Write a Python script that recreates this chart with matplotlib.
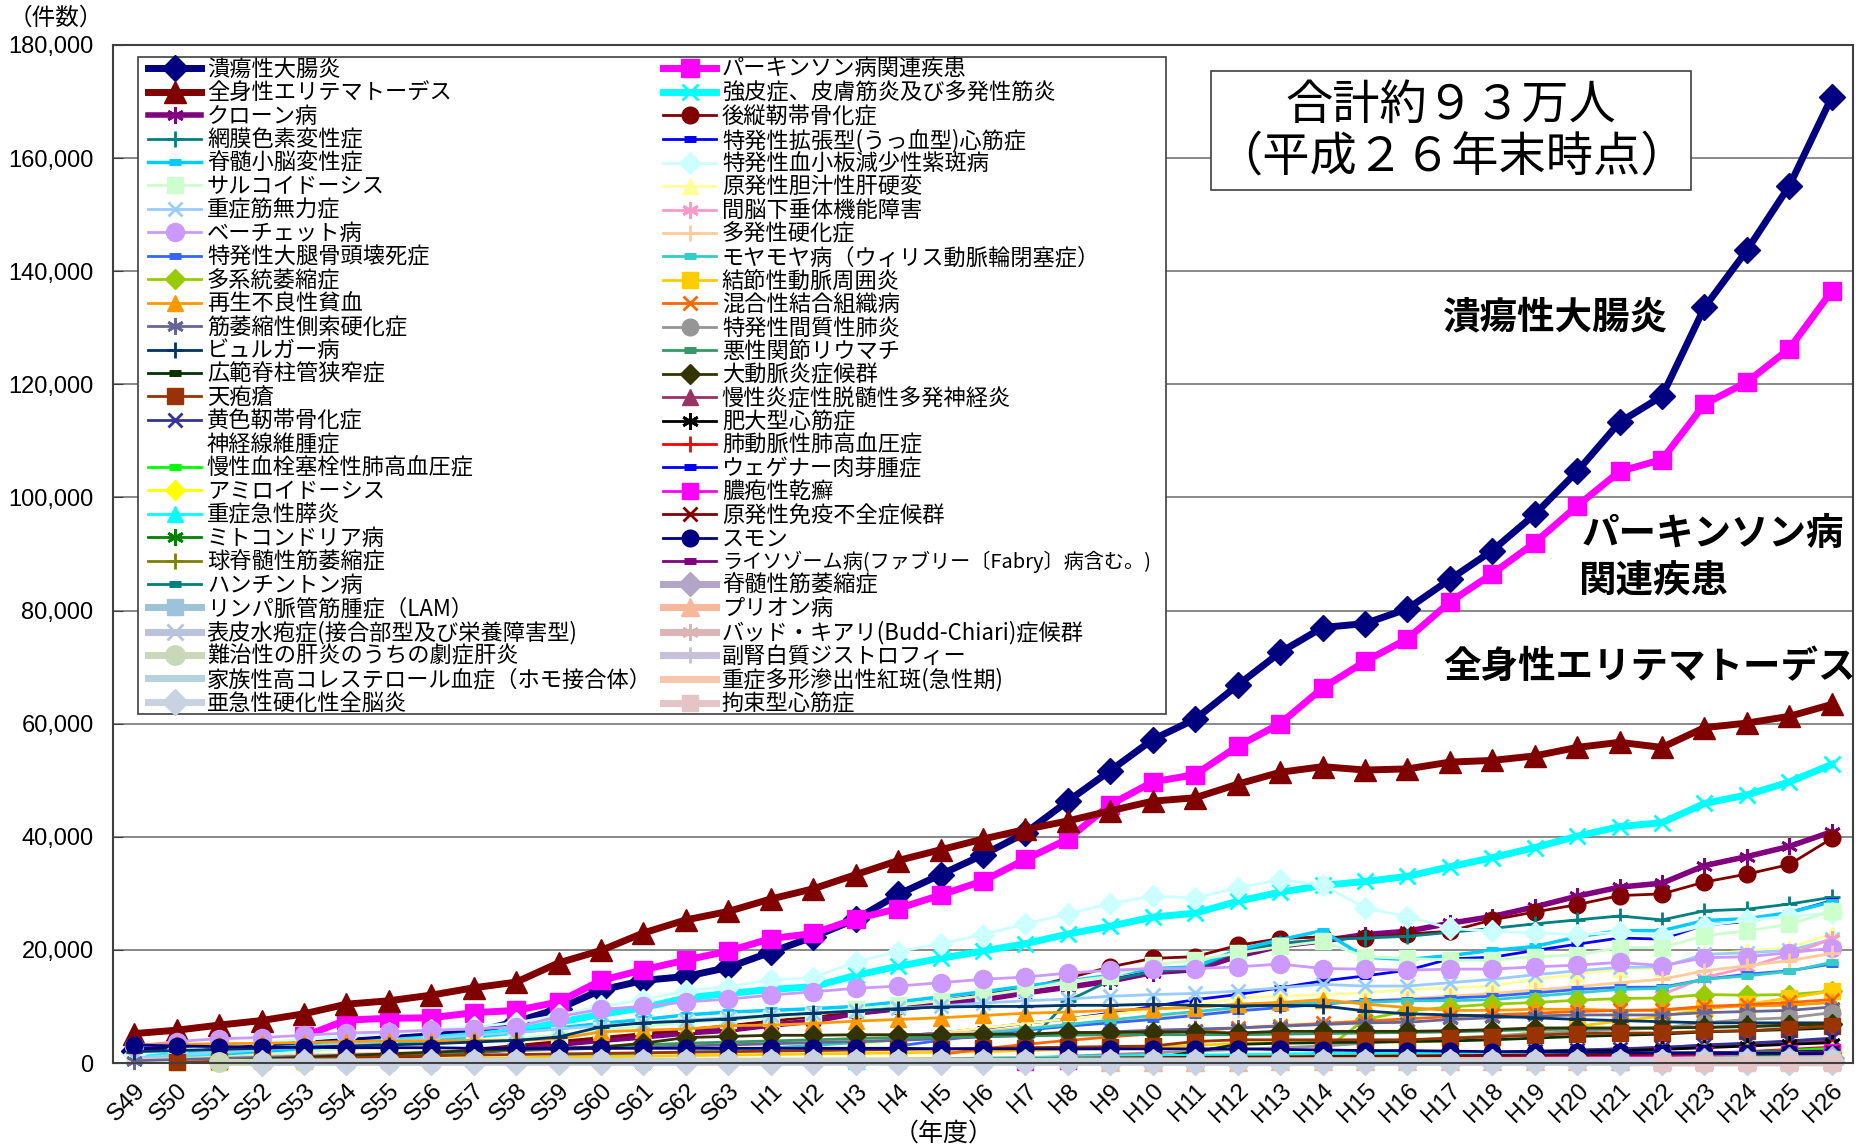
import numpy as np
import matplotlib
matplotlib.use('Agg')
import matplotlib.pyplot as plt
from matplotlib.patches import Rectangle
from matplotlib.ticker import FuncFormatter

plt.rcParams['font.family'] = ['Noto Sans CJK JP', 'DejaVu Sans']

years = ['S49', 'S50', 'S51', 'S52', 'S53', 'S54', 'S55', 'S56', 'S57', 'S58',
         'S59', 'S60', 'S61', 'S62', 'S63', 'H1', 'H2', 'H3', 'H4', 'H5',
         'H6', 'H7', 'H8', 'H9', 'H10', 'H11', 'H12', 'H13', 'H14', 'H15',
         'H16', 'H17', 'H18', 'H19', 'H20', 'H21', 'H22', 'H23', 'H24', 'H25', 'H26']

# --- left legend column ---
uc = [2200, 2400, 2700, 3000, 3300, 3800, 4300, 4800, 5500, 7300, 9600, 12900, 14600, 15300, 16900,
      19600, 22300, 25400, 29800, 33300, 36800, 40700, 46300, 51700, 57200,
      60800, 66800, 72600, 77000, 77700, 80300, 85500, 90600, 97000, 104600,
      113300, 117900, 133600, 143700, 155100, 170800]
sle = [5200, 5800, 6700, 7500, 8700, 10400, 11000, 12000, 13300, 14300, 17700, 19900, 23000, 25300, 26800,
       29000, 30800, 33300, 35800, 37700, 39600, 41300, 42800, 44600, 46300,
       46900, 49300, 51400, 52400, 51800, 52000, 53200, 53500, 54300, 55800,
       56700, 55800, 59300, 60100, 61300, 63400]
crohn = [None, None, 100, 300, 500, 800, 1100, 1500, 2000, 2600, 3300, 4000, 4600, 5300, 5800,
         6700, 7400, 8800, 9600, 10400, 11200, 12400, 13400, 14500, 16000,
         16500, 18900, 20700, 21600, 22700, 23300, 24700, 25900, 27600, 29500,
         31100, 31800, 34900, 36500, 38300, 40900]
rp = [None] * 21 + [3000, 11000, 14600, 16200,
      16700, 19700, 21200, 21800, 22100, 22400, 23100, 23800, 24600, 25300,
      26000, 25300, 26900, 27200, 28100, 29300]
scd = [None, None, 1200, 1800, 2400, 3000, 3600, 4200, 4800, 5400, 6200, 7000, 7700, 8500, 9000,
       9300, 9600, 10000, 10800, 11700, 12600, 13600, 14500, 15500, 16700,
       17000, 20000, 21800, 23400, 18700, 18300, 19000, 19900, 20600, 22300,
       23400, 23400, 25200, 25500, 26600, 28500]
sarcoid = [None, None, 1000, 1500, 2000, 2500, 3000, 3500, 3900, 4300, 5000, 5800, 6500, 7100, 7600,
           8000, 8500, 9600, 10200, 11000, 11900, 13000, 14400, 15300, 17300,
           18200, 19400, 20600, 21500, 18800, 18500, 18200, 18200, 18800, 19100,
           20400, 20400, 22500, 23400, 24500, 26900]
mg = [900, 1400, 1900, 2400, 2900, 3400, 3900, 4400, 4900, 5400, 6000, 6600, 7100, 7600, 8000,
      8400, 8800, 9200, 9700, 10100, 10600, 11000, 11300, 11800, 12100,
      12300, 12700, 13300, 13900, 13600, 13600, 14200, 14800, 15600, 16300,
      16900, 17000, 19200, 19500, 19900, 21900]
behcet = [3000, 3800, 4300, 4500, 4900, 5300, 5500, 5800, 6000, 6400, 8200, 9500, 10000, 10800, 11300,
          12000, 12600, 13200, 13600, 14200, 14800, 15200, 15900, 16400, 16700,
          16700, 17000, 17500, 16700, 16600, 16400, 16600, 16600, 17000, 17300,
          17800, 17200, 18600, 18800, 19500, 20300]
onfh = [None] * 18 + [3000, 4000, 5000, 5800, 6500, 7100, 7700,
        8400, 9200, 9800, 10400, 11000, 11200, 11500, 11800, 12400, 13000,
        13400, 13400, 14800, 15700, 16300, 17500]
msa = [None] * 28 + [2000, 7700, 9200, 9900, 10400, 10700, 11100,
       11400, 11500, 12100, 12000, 12100, 12700]
aa = [3200, 3300, 3400, 3500, 3600, 3800, 3900, 3900, 4000, 4000, 4300, 5500, 5800, 6000, 6600,
      6700, 7000, 7400, 7700, 8000, 8400, 8800, 9000, 9300, 9600,
      9800, 10400, 10700, 11200, 10400, 9800, 9300, 9300, 9500, 9500,
      9300, 9300, 9800, 10100, 10200, 10700]
als = [400, 600, 800, 1000, 1200, 1400, 1600, 1800, 2000, 2200, 2400, 2600, 2800, 3000, 3200,
       3400, 3600, 3800, 4000, 4300, 4600, 4900, 5200, 5500, 5800,
       6000, 6200, 6500, 6800, 7100, 7200, 7700, 8000, 8300, 8500,
       8500, 8500, 8900, 9100, 9300, 9900]
buerger = [2000, 2200, 2400, 2600, 2800, 3000, 3200, 3400, 3700, 4000, 4600, 6400, 7100, 7400, 7800,
           8400, 8800, 9200, 9600, 9900, 10000, 10000, 10200, 10200, 10400,
           10200, 10100, 10200, 10100, 9200, 8700, 8500, 8300, 8000, 7700,
           7500, 7300, 7100, 7100, 7100, 7100]
lss = [None] * 24 + [800,
       2000, 3300, 3500, 3600, 3700, 3800, 3900, 4100, 4400, 4700,
       4900, 5100, 5500, 5700, 5900, 6200]
pemphigus = [None, 100, 300, 500, 700, 900, 1100, 1300, 1400, 1500, 1600, 1700, 1800, 1900, 2000,
             2100, 2200, 2300, 2400, 2500, 2600, 2700, 2800, 2900, 3000,
             3800, 4100, 4100, 4100, 4100, 4100, 4400, 4600, 4900, 5200,
             5300, 5300, 5600, 5700, 6100, 6500]
olf = [None] * 29 + [800, 1200, 1500, 1800, 2100, 2300,
       2500, 2700, 3200, 3500, 3900, 4400]
nf = [None] * 24 + [500,
      800, 1000, 1200, 1400, 1600, 1800, 2000, 2200, 2400, 2600,
      2800, 3000, 3200, 3400, 3500, 3600]
cteph = [None] * 24 + [100,
         200, 300, 400, 500, 600, 700, 800, 900, 1000, 1100,
         1200, 1300, 1600, 1900, 2200, 2600]
amyloid = [None] * 5 + [100, 150, 200, 250, 300, 350, 400, 450, 500, 550,
           600, 650, 700, 750, 800, 850, 900, 950, 1000, 1050,
           1100, 1150, 1200, 1250, 1300, 1350, 1400, 1450, 1500, 1550,
           1600, 1650, 1700, 1750, 1800, 1900]
pancreatitis = [None] * 17 + [300, 500, 700, 900, 1000, 1100, 1200, 1300,
                1400, 1500, 1600, 1700, 1700, 1700, 1700, 1700, 1800, 1800,
                1800, 1800, 1600, 1600, 1500, 1500]
mito = [None] * 35 + [200, 500, 900, 1100, 1300, 1500]
sbma = [None] * 35 + [500, 700, 900, 1000, 1100, 1200]
huntington = [None] * 11 + [200, 250, 300, 350,
              400, 420, 440, 460, 480, 500, 520, 540, 560, 580,
              600, 620, 640, 660, 680, 700, 720, 740, 760, 780,
              800, 820, 840, 860, 880, 900]
lam = [None] * 35 + [100, 300, 500, 550, 600, 650]
eb = [None] * 35 + [100, 250, 300, 320, 340, 360]
hepatitis = [None, None, 100, 150, 200, 200, 250, 250, 300, 300, 300, 320, 320, 330, 330,
             340, 340, 350, 350, 350, 360, 360, 370, 370, 380,
             380, 390, 390, 400, 400, 400, 410, 410, 420, 420,
             430, 430, 440, 440, 450, 450]
fh = [None] * 35 + [50, 100, 120, 130, 140, 150]
sspe = [None, None, None, 80, 90, 100, 100, 100, 110, 110, 110, 110, 110, 110, 110,
        110, 110, 110, 110, 110, 100, 100, 100, 100, 100,
        100, 100, 100, 100, 100, 100, 100, 100, 100, 100,
        100, 100, 100, 100, 100, 100]

# --- right legend column ---
parkinson = [None, None, None, None, 4700, 7600, 7900, 8000, 8900, 9300, 10800, 14600, 16500, 18200, 19800,
             22000, 22900, 25500, 27300, 29700, 32200, 36000, 39600, 45700, 49700,
             51000, 56000, 60000, 66300, 71000, 75000, 81500, 86500, 92000, 98500,
             104600, 106700, 116500, 120400, 126300, 136500]
scleroderma = [1200, 1500, 1900, 2300, 2700, 3200, 3800, 4300, 4900, 5600, 7200, 8600, 9800, 11500, 12300,
               13000, 13500, 15500, 17100, 18500, 19800, 21100, 22800, 24200, 25800,
               26500, 28600, 30200, 31400, 32100, 33000, 34700, 36300, 38100, 40100,
               41800, 42500, 45900, 47400, 49700, 52800]
opll = [None] * 6 + [700, 1600, 2400, 3100, 3800, 4500, 5200, 5900, 6600,
        7400, 8200, 9200, 10100, 11000, 12100, 13200, 15000, 17000, 18500,
        18800, 20800, 22000, 22300, 22100, 22800, 23300, 25300, 26700, 28000,
        29600, 29900, 32000, 33400, 35100, 39700]
dcm = [None] * 18 + [4800, 5300, 6100, 7000, 7800, 8800, 10000,
       11200, 12100, 13300, 14500, 15400, 16400, 18400, 18700, 19900, 21000,
       22100, 21900, 24400, 25000, 26600, 28700]
itp = [1500, 2300, 3000, 3600, 4200, 4800, 5300, 5800, 6400, 7100, 8500, 10000, 11200, 12800, 13500,
       14700, 15100, 17900, 19700, 21100, 22700, 24600, 26400, 28200, 29500,
       29200, 31000, 32400, 31500, 27400, 25900, 23800, 23300, 23000, 22700,
       23100, 22500, 24300, 25200, 26000, 26500]
pbc = [None] * 16 + [1500, 3000, 4200, 5300, 6200, 7000, 7800, 8600, 9400,
       10200, 11500, 11800, 12100, 12400, 13000, 13300, 13600, 14800, 15700,
       16600, 16800, 19200, 19800, 20400, 22800]
pituitary = [None] * 36 + [12100, 15100, 16900, 19200, 21900]
msclerosis = [600, 800, 1000, 1200, 1400, 1600, 1800, 2000, 2200, 2400, 2600, 2800, 3000, 3200, 3400,
              3700, 4000, 4400, 4800, 5200, 5600, 6200, 6800, 7400, 8000,
              8600, 9300, 10000, 10500, 11000, 11400, 11800, 12300, 12900, 13500,
              14200, 14800, 16300, 17200, 18100, 19400]
moyamoya = [None] * 8 + [500, 800, 1100, 1400, 1700, 2000, 2300,
            2700, 3100, 3600, 4100, 4700, 5300, 6000, 6800, 7600, 8400,
            9100, 9800, 10400, 10700, 10700, 11000, 11000, 11200, 11800, 12400,
            13000, 13200, 14800, 15400, 16200, 17800]
pan = [None, 100, 200, 300, 400, 500, 600, 700, 800, 900, 1000, 1100, 1200, 1300, 1400,
       1500, 1600, 1700, 1800, 1900, 2000, 2200, 2400, 2600, 2800,
       3100, 3500, 3600, 3600, 3600, 3700, 3900, 4400, 5500, 6500,
       7400, 8300, 9500, 10400, 11500, 12700]
mctd = [None] * 19 + [1500, 2500, 3300, 4000, 4600, 5200,
        5700, 6200, 6600, 7000, 7400, 7800, 8200, 8500, 8800, 9100,
        9300, 9400, 10000, 10300, 10700, 11200]
ip = [None] * 21 + [800, 1200, 1500, 1800,
      2100, 2400, 2700, 3000, 3500, 4000, 4400, 4800, 5200, 5600,
      5900, 6200, 7100, 7700, 8000, 8900]
ra = [None, None, None, 500, 800, 1100, 1400, 1700, 2000, 2300, 2600, 2900, 3200, 3500, 3700,
      3900, 4100, 4300, 4500, 4600, 4700, 4800, 4900, 5000, 5000,
      5000, 5000, 5100, 5200, 5300, 5400, 5500, 5700, 5900, 6000,
      6100, 6200, 6300, 6400, 6600, 6800]
takayasu = [None, None, 400, 700, 1000, 1300, 1600, 1900, 2200, 2400, 2600, 2800, 3500, 4500, 4700,
            4900, 4900, 5000, 5000, 5000, 5100, 5100, 5400, 5400, 5500,
            5500, 5300, 5600, 5600, 5600, 5600, 5700, 5900, 6200, 6200,
            6200, 6200, 6300, 6500, 6700, 6900]
cidp = [None] * 29 + [500, 1000, 1300, 1600, 1900, 2200,
        2500, 2800, 3100, 3400, 3700, 4000]
hcm = [None] * 20 + [500, 700, 900, 1000, 1100,
       1200, 1300, 1400, 1500, 1600, 1700, 1800, 1900, 2000, 2100,
       2200, 2400, 2700, 3000, 3300, 3600]
pah = [None] * 24 + [100,
       200, 300, 400, 500, 600, 700, 800, 900, 1000, 1100,
       1200, 1300, 1700, 2000, 2400, 2800]
wegener = [None] * 10 + [100, 150, 200, 250, 300,
           350, 400, 450, 500, 550, 600, 650, 700, 750, 800,
           850, 900, 950, 1000, 1050, 1100, 1200, 1300, 1400, 1500,
           1600, 1700, 1800, 1900, 2000, 2100]
psoriasis = [None] * 21 + [200, 300, 400, 500,
             600, 650, 700, 750, 800, 850, 900, 950, 1000, 1100,
             1200, 1300, 1400, 1600, 1700, 1900]
pid = [None] * 12 + [200, 300, 400,
       500, 550, 600, 650, 700, 750, 800, 850, 900, 950,
       1000, 1050, 1100, 1150, 1200, 1250, 1300, 1350, 1400, 1450,
       1500, 1550, 1600, 1700, 1800, 1900]
smon = [3200, 3000, 2900, 2800, 2800, 2700, 2700, 2700, 2600, 2600, 2600, 2600, 2600, 2600, 2600,
        2600, 2600, 2600, 2600, 2500, 2500, 2500, 2500, 2500, 2500,
        2500, 2500, 2400, 2300, 2200, 2200, 2100, 2000, 2000, 1900,
        1900, 1800, 1800, 1700, 1700, 1600]
lysosome = [None] * 27 + [300, 400, 450, 500, 550, 600, 650, 700,
            750, 800, 850, 900, 950, 1000]
sma = [None] * 35 + [200, 400, 500, 600, 700, 800]
prion = [None] * 23 + [200, 220,
         240, 260, 280, 300, 320, 340, 360, 380, 400, 420,
         440, 460, 480, 500, 520, 540]
budd = [None] * 24 + [100, 120, 140, 160, 180, 200, 210, 220, 230, 240,
                      250, 260, 270, 280, 290, 300, 300]
ald = [None] * 26 + [50, 70, 90, 100, 110, 120, 130, 140, 150, 160,
                     170, 180, 190, 200, 210]
sjs = [None] * 35 + [50, 70, 60, 60, 70, 60]
rcm = [None] * 36 + [20, 25, 30, 30, 35]

AST = (6, 2, 0)

# label, data, color, marker, linewidth, markersize
left = [
    ('潰瘍性大腸炎', uc, '#000080', 'D', 5, 13),
    ('全身性エリテマトーデス', sle, '#800000', '^', 5, 16),
    ('クローン病', crohn, '#800080', AST, 4, 12),
    ('網膜色素変性症', rp, '#008080', '+', 2, 12),
    ('脊髄小脳変性症', scd, '#00CCFF', '_', 2.5, 8),
    ('サルコイドーシス', sarcoid, '#CCFFCC', 's', 2, 12),
    ('重症筋無力症', mg, '#99CCFF', 'x', 2, 10),
    ('ベーチェット病', behcet, '#CC99FF', 'o', 2, 13),
    ('特発性大腿骨頭壊死症', onfh, '#3366FF', '_', 2, 8),
    ('多系統萎縮症', msa, '#99CC00', 'D', 2, 10),
    ('再生不良性貧血', aa, '#FF9900', '^', 2, 12),
    ('筋萎縮性側索硬化症', als, '#666699', AST, 2, 12),
    ('ビュルガー病', buerger, '#003366', '+', 2, 12),
    ('広範脊柱管狭窄症', lss, '#003300', '_', 2, 8),
    ('天疱瘡', pemphigus, '#993300', 's', 2, 11),
    ('黄色靭帯骨化症', olf, '#333399', 'x', 2, 10),
    ('神経線維腫症', nf, 'none', 'None', 0, 0),
    ('慢性血栓塞栓性肺高血圧症', cteph, '#00FF00', '_', 2, 8),
    ('アミロイドーシス', amyloid, '#FFFF00', 'D', 2, 10),
    ('重症急性膵炎', pancreatitis, '#00FFFF', '^', 2, 11),
    ('ミトコンドリア病', mito, '#008000', AST, 2, 12),
    ('球脊髄性筋萎縮症', sbma, '#808000', '+', 2, 12),
    ('ハンチントン病', huntington, '#008080', '_', 2, 8),
    ('リンパ脈管筋腫症（LAM）', lam, '#9DC3D6', 's', 5, 12),
    ('表皮水疱症(接合部型及び栄養障害型)', eb, '#B9C3DD', 'x', 5, 11),
    ('難治性の肝炎のうちの劇症肝炎', hepatitis, '#C8D8B8', 'o', 5, 14),
    ('家族性高コレステロール血症（ホモ接合体）', fh, '#B3D3DF', 'None', 5, 0),
    ('亜急性硬化性全脳炎', sspe, '#C9D2E3', 'D', 5, 13),
]
right = [
    ('パーキンソン病関連疾患', parkinson, '#FF00FF', 's', 5, 13),
    ('強皮症、皮膚筋炎及び多発性筋炎', scleroderma, '#00FFFF', 'x', 5, 12),
    ('後縦靭帯骨化症', opll, '#800000', 'o', 2, 12),
    ('特発性拡張型(うっ血型)心筋症', dcm, '#0000FF', '_', 2, 8),
    ('特発性血小板減少性紫斑病', itp, '#CCFFFF', 'D', 2, 11),
    ('原発性胆汁性肝硬変', pbc, '#FFFF99', '^', 2, 12),
    ('間脳下垂体機能障害', pituitary, '#FF99CC', AST, 2, 12),
    ('多発性硬化症', msclerosis, '#FFCC99', '+', 2, 12),
    ('モヤモヤ病（ウィリス動脈輪閉塞症）', moyamoya, '#33CCCC', '_', 2, 8),
    ('結節性動脈周囲炎', pan, '#FFCC00', 's', 2, 11),
    ('混合性結合組織病', mctd, '#FF6600', 'x', 2, 10),
    ('特発性間質性肺炎', ip, '#969696', 'o', 2, 12),
    ('悪性関節リウマチ', ra, '#339966', '_', 2, 8),
    ('大動脈炎症候群', takayasu, '#333300', 'D', 2, 10),
    ('慢性炎症性脱髄性多発神経炎', cidp, '#993366', '^', 2, 11),
    ('肥大型心筋症', hcm, '#000000', AST, 2, 12),
    ('肺動脈性肺高血圧症', pah, '#FF0000', '+', 2, 12),
    ('ウェゲナー肉芽腫症', wegener, '#0000FF', '_', 2, 8),
    ('膿疱性乾癬', psoriasis, '#FF00FF', 's', 2, 11),
    ('原発性免疫不全症候群', pid, '#800000', 'x', 2, 10),
    ('スモン', smon, '#000080', 'o', 2, 12),
    ('ライソゾーム病(ファブリー〔Fabry〕病含む。)', lysosome, '#800080', '_', 2, 8),
    ('脊髄性筋萎縮症', sma, '#B2A6C8', 'D', 5, 12),
    ('プリオン病', prion, '#F6B89A', '^', 5, 13),
    ('バッド・キアリ(Budd-Chiari)症候群', budd, '#DDB4B4', AST, 5, 12),
    ('副腎白質ジストロフィー', ald, '#C6C0D8', '+', 5, 12),
    ('重症多形滲出性紅斑(急性期)', sjs, '#F7C6AC', 'None', 5, 0),
    ('拘束型心筋症', rcm, '#E4C4C4', 's', 5, 12),
]

fig = plt.figure(figsize=(18.66, 11.46), dpi=100)
ax = fig.add_axes([113 / 1866, 1 - 1063 / 1146, (1853 - 113) / 1866, (1063 - 45) / 1146])
x = np.arange(len(years))


def draw(entry):
    label, vals, color, marker, lw, ms = entry
    y = np.array(vals, dtype=float)
    if color == 'none':
        line, = ax.plot(x, y, linestyle='None', marker='None', label=label)
        return line
    mew = 1
    if marker in ('x', '+') or marker == AST:
        mew = 2
    elif marker == '_':
        mew = 5
    line, = ax.plot(x, y, color=color, lw=lw, marker=marker, ms=ms,
                    mfc=color, mec=color, mew=mew, label=label,
                    solid_joinstyle='round', clip_on=False)
    return line


left_lines, right_lines = [], []
for a, b in zip(left, right):
    left_lines.append(draw(a))
    right_lines.append(draw(b))

ax.set_xlim(-0.5, len(years) - 0.5)
ax.set_ylim(0, 180000)
ax.set_yticks(range(0, 180001, 20000))
ax.yaxis.set_major_formatter(FuncFormatter(lambda v, p: f'{int(v):,}'))
ax.grid(axis='y', color='#808080', lw=1.3)
ax.set_axisbelow(True)
ax.set_xticks(x)
ax.set_xticklabels(years, rotation=45, ha='right', va='top', rotation_mode='anchor')
ax.tick_params(axis='x', length=0, pad=12, labelsize=17.5)
ax.tick_params(axis='y', direction='in', length=7, pad=14, labelsize=17, color='#404040')
for lbl in ax.get_xticklabels() + ax.get_yticklabels():
    lbl.set_fontfamily(['Liberation Sans', 'DejaVu Sans'])
for s in ax.spines.values():
    s.set_color('#404040')
    s.set_linewidth(1.5)

# legend box
ax.add_artist(Rectangle((138 / 1866, 1 - 714 / 1146), (1166 - 138) / 1866, (714 - 57) / 1146,
                        transform=fig.transFigure, fc='white', ec='#404040', lw=1.2,
                        zorder=4.5, clip_on=False))
leg_kw = dict(loc='upper left', bbox_transform=fig.transFigure, frameon=False,
              fontsize=16, labelspacing=0.02, handlelength=2.4, handletextpad=0.25,
              borderpad=0, borderaxespad=0)
leg1 = ax.legend(left_lines, [e[0] for e in left],
                 bbox_to_anchor=(148 / 1866, 1 - 58 / 1146), **leg_kw)
ax.add_artist(leg1)
leg2 = ax.legend(right_lines, [e[0] for e in right],
                 bbox_to_anchor=(663 / 1866, 1 - 58 / 1146), **leg_kw)
leg2.get_texts()[21].set_fontsize(14.5)

# total box
ax.add_artist(Rectangle((1211 / 1866, 1 - 190 / 1146), (1691 - 1211) / 1866, (190 - 71) / 1146,
                        transform=fig.transFigure, fc='white', ec='#404040', lw=1.2,
                        zorder=4.5, clip_on=False))
ax.text(1451 / 1866, 1 - 131 / 1146, '合計約９３万人\n（平成２６年末時点）',
        transform=fig.transFigure, ha='center', va='center', fontsize=34,
        linespacing=1.08, zorder=6)

# series labels
lab_kw = dict(transform=fig.transFigure, ha='left', va='center', fontsize=27,
              fontweight='bold', zorder=6)
ax.text(1443 / 1866, 1 - 317 / 1146, '潰瘍性大腸炎', **lab_kw)
ax.text(1582 / 1866, 1 - 533 / 1146, 'パーキンソン病', **lab_kw)
ax.text(1578 / 1866, 1 - 580 / 1146, '関連疾患', **lab_kw)
ax.text(1443 / 1866, 1 - 666 / 1146, '全身性エリテマトーデス', **lab_kw)

fig.text(56 / 1866, 1 - 18 / 1146, '（件数）', ha='center', va='center', fontsize=17)
fig.text(944 / 1866, 1 - 1134 / 1146, '（年度）', ha='center', va='center', fontsize=18)

fig.savefig('out.png', dpi=100)
